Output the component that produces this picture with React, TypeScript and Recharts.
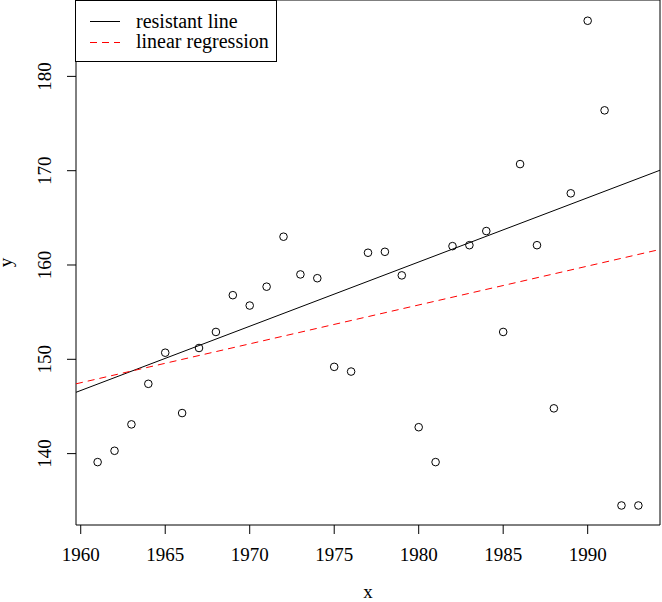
import React from "react"
import {
  ScatterChart,
  Scatter,
  XAxis,
  YAxis,
  ReferenceArea,
  ReferenceLine,
  Legend,
  Label,
} from "recharts"

const years = [
  1961, 1962, 1963, 1964, 1965, 1966, 1967, 1968, 1969, 1970, 1971,
  1972, 1973, 1974, 1975, 1976, 1977, 1978, 1979, 1980, 1981, 1982,
  1983, 1984, 1985, 1986, 1987, 1988, 1989, 1990, 1991, 1992, 1993,
]
const values = [
  139.1, 140.3, 143.1, 147.4, 150.7, 144.3, 151.2, 152.9, 156.8, 155.7, 157.7,
  163.0, 159.0, 158.6, 149.2, 148.7, 161.3, 161.4, 158.9, 142.8, 139.1, 162.0,
  162.1, 163.6, 152.9, 170.7, 162.1, 144.8, 167.6, 185.9, 176.4, 134.5, 134.5,
]

const xTicks = [1960, 1965, 1970, 1975, 1980, 1985, 1990]
const yTicks = [140, 150, 160, 170, 180]
const xDomain = [1959.72, 1994.28]
const yDomain = [132.43, 188.1]

// fitted lines, values at the two plot edges
const resistantLine = [146.5, 170.05]
const regressionLine = [147.4, 161.65]

const seriesNames = ["resistant line", "linear regression"]

const points = years.map((year, i) => ({ year, value: values[i] }))

const FONT = "'Liberation Serif', 'Times New Roman', serif"

function OpenCircle(props: any) {
  return <circle cx={props.cx} cy={props.cy} r={3.8} fill="none" stroke="#000" strokeWidth={1} />
}

function XTick({ x, y, payload }: any) {
  return (
    <text x={x} y={y + 25} textAnchor="middle" fontSize={19} fontFamily={FONT} fill="#000">
      {payload.value}
    </text>
  )
}

function YTick({ x, y, payload }: any) {
  return (
    <text
      x={x - 14}
      y={y}
      textAnchor="middle"
      fontSize={19}
      fontFamily={FONT}
      fill="#000"
      transform={`rotate(-90, ${x - 14}, ${y})`}
    >
      {payload.value}
    </text>
  )
}

function LegendBox() {
  return (
    <svg width={203} height={63} style={{ display: "block" }}>
      <rect x={0.5} y={0.5} width={201} height={61} fill="#fff" stroke="#000" />
      <line x1={15} x2={45} y1={21.5} y2={21.5} stroke="#000" />
      <line x1={15} x2={45} y1={42.5} y2={42.5} stroke="#ff0000" strokeDasharray="7 5" />
      <text x={61} y={27.5} fontSize={20} fontFamily={FONT} fill="#000">
        {seriesNames[0]}
      </text>
      <text x={61} y={48} fontSize={20} fontFamily={FONT} fill="#000">
        {seriesNames[1]}
      </text>
    </svg>
  )
}

export default function App() {
  return (
    <div style={{ position: "absolute", left: 0, top: 0, background: "#fff" }}>
      <ScatterChart
        width={662}
        height={602}
        margin={{ top: 0, right: 2, bottom: 0, left: 0 }}
        style={{ fontFamily: FONT }}
      >
        <XAxis
          type="number"
          dataKey="year"
          domain={xDomain}
          ticks={xTicks}
          allowDataOverflow
          height={77}
          axisLine={false}
          tickSize={9}
          tickLine={{ stroke: "#000" }}
          tick={<XTick />}
          interval={0}
        >
          <Label
            content={({ viewBox }: any) => (
              <text
                x={viewBox.x + viewBox.width / 2}
                y={viewBox.y + 73}
                textAnchor="middle"
                fontSize={19}
                fontFamily={FONT}
                fill="#000"
              >
                x
              </text>
            )}
          />
        </XAxis>
        <YAxis
          type="number"
          dataKey="value"
          domain={yDomain}
          ticks={yTicks}
          allowDataOverflow
          width={76}
          axisLine={false}
          tickSize={9}
          tickLine={{ stroke: "#000" }}
          tick={<YTick />}
          interval={0}
        >
          <Label
            content={({ viewBox }: any) => {
              const cx = viewBox.x + 12
              const cy = viewBox.y + viewBox.height / 2
              return (
                <text
                  x={cx}
                  y={cy}
                  textAnchor="middle"
                  fontSize={19}
                  fontFamily={FONT}
                  fill="#000"
                  transform={`rotate(-90, ${cx}, ${cy})`}
                >
                  y
                </text>
              )
            }}
          />
        </YAxis>
        <ReferenceArea
          x1={xDomain[0]}
          x2={xDomain[1]}
          y1={yDomain[0]}
          y2={yDomain[1]}
          fill="none"
          stroke="#000"
          strokeWidth={1}
          fillOpacity={0}
        />
        <ReferenceLine
          segment={[
            { x: xDomain[0], y: resistantLine[0] },
            { x: xDomain[1], y: resistantLine[1] },
          ]}
          stroke="#000"
          strokeWidth={1}
        />
        <ReferenceLine
          segment={[
            { x: xDomain[0], y: regressionLine[0] },
            { x: xDomain[1], y: regressionLine[1] },
          ]}
          stroke="#ff0000"
          strokeWidth={1}
          strokeDasharray="7 5"
        />
        <Scatter data={points} shape={<OpenCircle />} isAnimationActive={false} />
        <Legend
          layout="horizontal"
          verticalAlign="middle"
          align="center"
          content={() => <LegendBox />}
          wrapperStyle={{ left: 75, top: 0, width: "auto", height: "auto" }}
        />
      </ScatterChart>
    </div>
  )
}
